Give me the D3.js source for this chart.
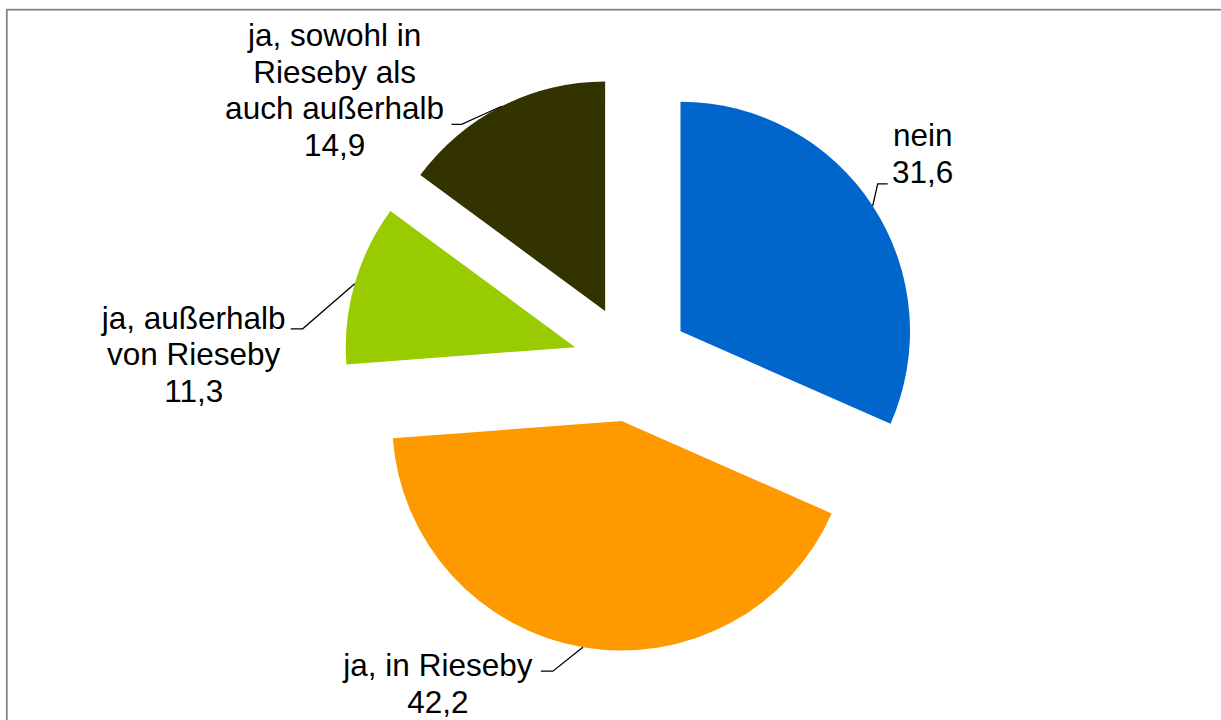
<!DOCTYPE html>
<html>
<head>
<meta charset="utf-8">
<script src="https://cdn.jsdelivr.net/npm/d3@7"></script>
<style>
  body { margin: 0; background: #fff; }
  text { font-family: "Liberation Sans", Arial, sans-serif; }
</style>
</head>
<body>
<script>
// chart data
var categories = ["nein", "ja, in Rieseby", "ja, außerhalb von Rieseby", "ja, sowohl in Rieseby als auch außerhalb"];
var values = [31.6, 42.2, 11.3, 14.9];
var labelLines = [
    ["nein"],
    ["ja, in Rieseby"],
    ["ja, außerhalb", "von Rieseby"],
    ["ja, sowohl in", "Rieseby als", "auch außerhalb"]
];
var colors = ["#0066CC", "#FF9900", "#99CC00", "#333300"];

// layout: label placement relative to the leader's end on the slice
// e = elbow, h = end of the short horizontal piece, t = first baseline centre
var labelLayout = [
    {e: [5, -22], h: [15, -22], t: [50, -60]},
    {e: [-30, 24], h: [-42, 24], t: [-145, 29]},
    {e: [-52, 45], h: [-64, 45], t: [-161, 45]},
    {e: [-40, 18], h: [-50, 18], t: [-167, -60]}
];

var w = 1221, h = 720;
var cx = 631.5, cy = 363.3, r = 229.5, explode = 58.5;
var fontSize = 31.5, lineH = 36.6;

var svg = d3.select("body")
    .append("svg")
    .attr("width", w)
    .attr("height", h);

// chart border (runs off the right and bottom)
svg.append("rect")
    .attr("x", 6.8)
    .attr("y", 9.7)
    .attr("width", 1400)
    .attr("height", 900)
    .attr("fill", "none")
    .attr("stroke", "#868686")
    .attr("stroke-width", 1.8);

var pie = d3.pie().sort(null).value(d => d);
var arcs = pie(values);

var arc = d3.arc().innerRadius(0).outerRadius(r);

var g = svg.append("g")
    .attr("transform", "translate(" + cx + "," + cy + ")");

function polar(a, rad) {
    return [Math.sin(a) * rad, -Math.cos(a) * rad];
}

arcs.forEach((d, i) => {
    var mid = (d.startAngle + d.endAngle) / 2;
    var off = polar(mid, explode);

    g.append("path")
        .attr("d", arc(d))
        .attr("fill", colors[i])
        .attr("transform", "translate(" + off[0] + "," + off[1] + ")");

    // leader line end on the outer arc
    var p = polar(mid, r);
    var px = off[0] + p[0], py = off[1] + p[1];
    var L = labelLayout[i];

    g.append("polyline")
        .attr("points", [[px, py], [px + L.e[0], py + L.e[1]], [px + L.h[0], py + L.h[1]]]
            .map(q => q.join(",")).join(" "))
        .attr("fill", "none")
        .attr("stroke", "#000")
        .attr("stroke-width", 1.3);

    var lines = labelLines[i].concat([d3.format(".1f")(values[i]).replace(".", ",")]);
    var t = g.append("text")
        .attr("text-anchor", "middle")
        .attr("font-size", fontSize)
        .attr("fill", "#000");
    lines.forEach((s, k) => {
        t.append("tspan")
            .attr("x", px + L.t[0])
            .attr("y", py + L.t[1] + k * lineH)
            .text(s);
    });
});
</script>
</body>
</html>
